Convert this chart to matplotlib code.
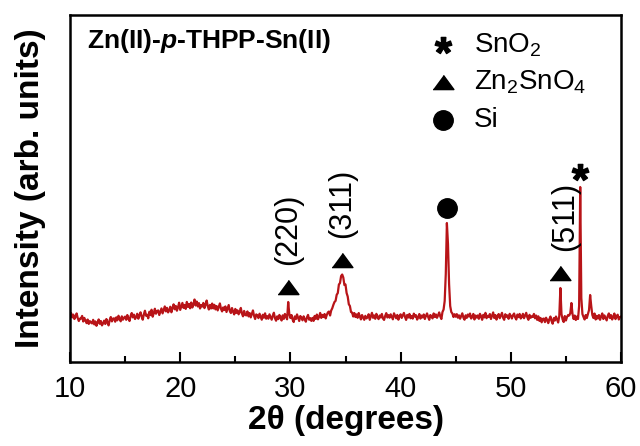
import numpy as np
import matplotlib
matplotlib.use("Agg")
import matplotlib.pyplot as plt

plt.rcParams['font.family'] = ['Liberation Sans', 'DejaVu Sans']
plt.rcParams['mathtext.fontset'] = 'custom'
plt.rcParams['mathtext.rm'] = 'Liberation Sans'
plt.rcParams['mathtext.it'] = 'Liberation Sans:italic:bold'
plt.rcParams['mathtext.bf'] = 'Liberation Sans:bold'

# scan grid: 10 -> 60 deg, 0.1 deg step
two_theta = np.round(np.arange(10.0, 60.05, 0.1), 1)

# intensity (arb. units), one row per degree
intensity = [
    460, 490, 446, 474, 430, 454, 486, 440, 410, 434,
    435, 461, 405, 441, 415, 389, 425, 381, 409, 395,
    386, 422, 376, 406, 362, 396, 426, 382, 410, 366,
    386, 414, 380, 430, 400, 366, 420, 450, 406, 434,
    437, 403, 447, 417, 463, 431, 407, 457, 423, 443,
    454, 422, 470, 434, 410, 460, 490, 446, 474, 430,
    449, 483, 433, 469, 497, 453, 423, 477, 513, 463,
    473, 437, 503, 469, 523, 453, 489, 533, 483, 509,
    516, 470, 502, 536, 486, 522, 556, 506, 542, 496,
    517, 553, 497, 541, 577, 527, 561, 513, 547, 593,
    521, 557, 591, 541, 571, 531, 601, 551, 581, 537,
    595, 545, 575, 625, 565, 605, 555, 589, 535, 569,
    555, 591, 539, 575, 615, 559, 525, 571, 535, 585,
    536, 572, 526, 560, 516, 552, 586, 532, 506, 546,
    520, 556, 500, 536, 570, 510, 490, 540, 504, 476,
    531, 491, 517, 477, 501, 541, 485, 457, 511, 471,
    466, 506, 456, 490, 446, 482, 516, 462, 430, 476,
    467, 439, 483, 453, 423, 473, 443, 487, 433, 459,
    433, 477, 449, 423, 463, 493, 437, 413, 457, 429,
    471, 441, 415, 467, 431, 481, 451, 427, 600, 480,
    440, 470, 424, 400, 456, 430, 476, 444, 410, 460,
    443, 417, 457, 427, 403, 447, 471, 423, 439, 411,
    441, 411, 461, 431, 475, 427, 451, 491, 441, 471,
    450, 480, 436, 470, 496, 505, 465, 515, 538, 572,
    600, 612, 672, 690, 775, 790, 860, 875, 845, 770,
    775, 690, 655, 578, 560, 500, 495, 455, 490, 450,
    476, 442, 490, 456, 426, 470, 446, 422, 462, 436,
    446, 478, 422, 458, 492, 442, 466, 432, 482, 452,
    429, 465, 445, 481, 435, 421, 461, 489, 445, 469,
    443, 477, 451, 427, 487, 463, 437, 471, 423, 457,
    477, 441, 465, 491, 451, 421, 471, 445, 481, 437,
    460, 434, 484, 454, 468, 424, 448, 480, 434, 464,
    446, 476, 430, 462, 486, 450, 422, 470, 456, 436,
    486, 450, 476, 442, 466, 496, 456, 430, 500, 525,
    610, 880, 1390, 1180, 780, 560, 500, 485, 450, 478,
    453, 479, 443, 467, 433, 459, 487, 443, 423, 467,
    441, 475, 455, 485, 435, 449, 481, 425, 465, 445,
    466, 432, 482, 458, 422, 472, 446, 492, 438, 462,
    450, 480, 430, 464, 496, 440, 470, 424, 456, 480,
    438, 466, 492, 442, 422, 478, 452, 466, 432, 482,
    461, 435, 469, 485, 445, 425, 475, 449, 481, 435,
    452, 482, 438, 466, 492, 446, 422, 472, 442, 458,
    451, 481, 437, 465, 421, 457, 411, 441, 397, 431,
    435, 399, 443, 419, 389, 429, 455, 409, 383, 439,
    415, 455, 425, 395, 460, 740, 480, 425, 400, 460,
    415, 450, 470, 465, 490, 590, 480, 430, 465, 420,
    455, 430, 560, 1750, 640, 480, 450, 425, 470, 440,
    480, 520, 670, 560, 470, 440, 485, 425, 462, 435,
    470, 422, 456, 486, 430, 466, 442, 416, 462, 486,
    439, 469, 425, 453, 485, 429, 459, 473, 425, 449,
    455,
]

# indexed reflections
peak_pos = [29.8, 34.7, 44.2, 54.5, 56.3]
peak_phase = ['Zn2SnO4', 'Zn2SnO4', 'Si', 'Zn2SnO4', 'SnO2']
peak_hkl = ['(220)', '(311)', '', '(511)', '']

phases = ['SnO2', 'Zn2SnO4', 'Si']
phase_labels = [r'$\mathregular{SnO_2}$', r'$\mathregular{Zn_2SnO_4}$', 'Si']

tri = [(-1, -0.68), (1, -0.68), (0, 0.68)]
phase_marker = {'SnO2': r'$\mathbf{*}$', 'Zn2SnO4': tri, 'Si': 'o'}
phase_ms = {'SnO2': 12, 'Zn2SnO4': 15, 'Si': 14}

fig = plt.figure(figsize=(6.4, 4.46), dpi=100)
ax = fig.add_axes([0.1094, 0.1883, 0.8609, 0.7780])

ax.plot(two_theta, intensity, color='#b81418', lw=1.6)

for p, ph, hkl in zip(peak_pos, peak_phase, peak_hkl):
    i = int(np.argmin(np.abs(two_theta - p)))
    ym = intensity[i] + 150
    ax.plot(p, ym, marker=phase_marker[ph], ms=phase_ms[ph], color='black',
            mec='black', ls='none')
    if hkl:
        dx = 0.4 if hkl == '(511)' else 0.0
        ax.text(p + dx, ym + 220, hkl, rotation=90, ha='center', va='bottom',
                fontsize=22)

# phase key
key_y = [0.913, 0.807, 0.697]
for ph, lab, ky in zip(phases, phase_labels, key_y):
    ax.plot(0.677, ky, marker=phase_marker[ph], ms=phase_ms[ph], color='black',
            ls='none', transform=ax.transAxes, clip_on=False)
    ax.text(0.733, ky, lab, fontsize=20, va='center', ha='left',
            transform=ax.transAxes)

ax.text(0.03, 0.906, r'Zn(II)-$\mathit{p}$-THPP-Sn(II)', fontsize=19,
        fontweight='bold', transform=ax.transAxes, va='baseline', ha='left')

ax.set_xlim(10, 60)
ax.set_ylim(0, 3470)
ax.set_xticks([10, 20, 30, 40, 50, 60])
ax.set_xticks([15, 25, 35, 45, 55], minor=True)
ax.set_yticks([])
ax.tick_params(axis='x', which='major', direction='in', length=7, width=1.5,
               labelsize=21, pad=9)
ax.tick_params(axis='x', which='minor', direction='in', length=4, width=1.5)
for s in ax.spines.values():
    s.set_linewidth(1.8)

ax.set_xlabel('2θ (degrees)', fontsize=24, fontweight='bold')
ax.set_ylabel('Intensity (arb. units)', fontsize=24, fontweight='bold')
ax.xaxis.set_label_coords(0.5, -0.124)
ax.xaxis.label.set_va('top')
ax.yaxis.set_label_coords(-0.044, 0.5)

fig.savefig('out.png', dpi=100)
